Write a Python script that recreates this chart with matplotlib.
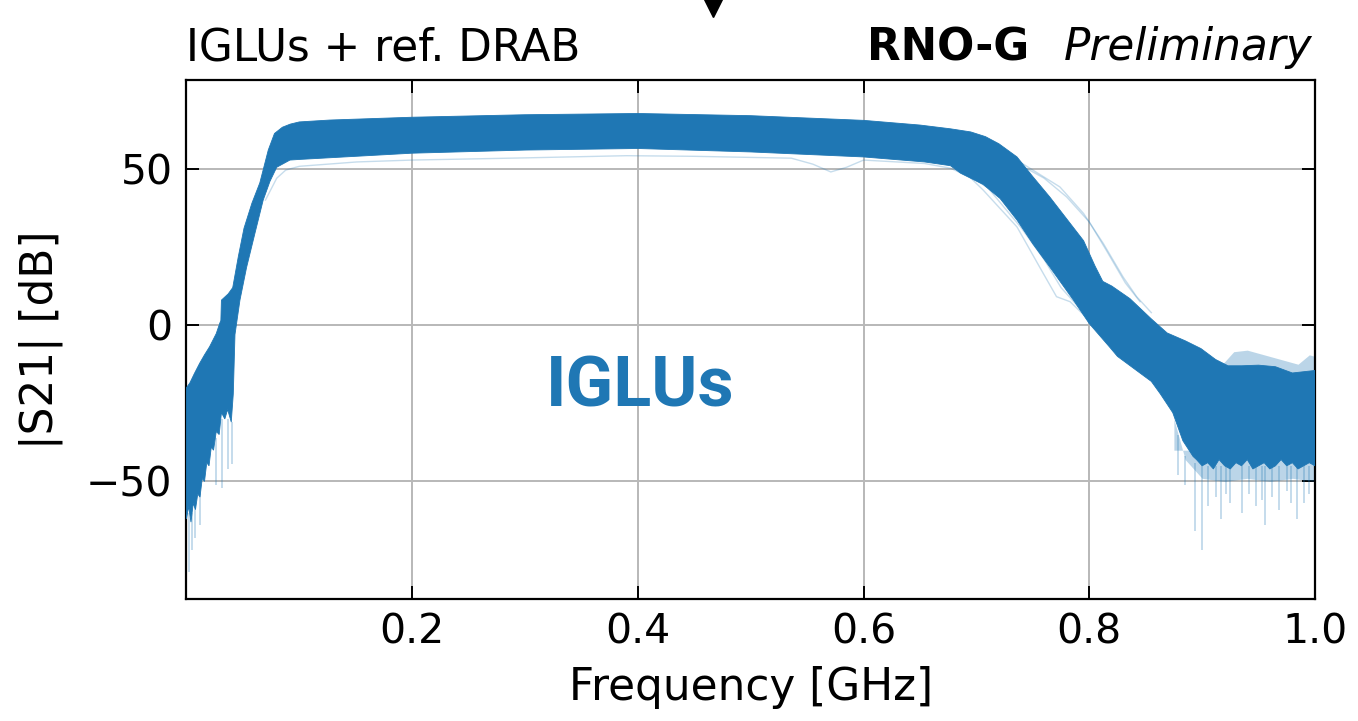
import numpy as np
import matplotlib.pyplot as plt
from matplotlib.lines import Line2D

# outer envelope of all IGLU |S21| traces (GHz, dB)
freq_top = [0.0, 0.003, 0.007, 0.0117, 0.016, 0.0205, 0.0264, 0.0294, 0.0305,
            0.031, 0.037, 0.041, 0.046, 0.051, 0.058, 0.065, 0.0725, 0.078,
            0.085, 0.092, 0.1, 0.127, 0.2, 0.3, 0.4, 0.5, 0.6, 0.65, 0.677,
            0.695, 0.708, 0.72, 0.736, 0.75, 0.765, 0.78, 0.795, 0.805, 0.812,
            0.82, 0.836, 0.855, 0.869, 0.885, 0.899, 0.912, 0.923, 0.935, 0.95,
            0.965, 0.98, 1.0]
s21_top = [-20, -18.5, -15.5, -12.2, -9.5, -6.9, -2.7, 0.5, 1.5,
           8, 10, 12, 22, 31, 39, 45.5, 56, 61.3,
           63.3, 64.3, 65, 65.6, 66.5, 67.3, 67.7, 67, 65.5, 64, 62.8,
           61.8, 60.3, 58, 53.8, 47.5, 41, 34, 27, 19, 14,
           12.5, 8.5, 2, -2.5, -5, -7.5, -11, -13, -13, -12.8,
           -13.3, -15.3, -14.5]

freq_bot = [0.0, 0.002, 0.004, 0.006, 0.008, 0.01, 0.012, 0.014, 0.016, 0.018,
            0.02, 0.022, 0.024, 0.0264, 0.029, 0.031, 0.034, 0.0365, 0.0397,
            0.0415, 0.043, 0.0474, 0.0533, 0.0607, 0.068, 0.074, 0.08, 0.0917,
            0.1, 0.2, 0.3, 0.4, 0.5, 0.6, 0.654, 0.677, 0.686, 0.706, 0.721,
            0.736, 0.75, 0.765, 0.786, 0.8, 0.818, 0.825, 0.84, 0.855, 0.863,
            0.874, 0.883, 0.892, 0.895, 0.9, 0.905, 0.91, 0.915, 0.92, 0.925,
            0.93, 0.935, 0.94, 0.945, 0.95, 0.955, 0.96, 0.965, 0.97, 0.975,
            0.98, 0.985, 0.99, 0.995, 1.0]
s21_bot = [-62, -58, -63, -57, -59, -54, -55, -49, -50, -44,
           -45, -39, -40, -34, -35, -28, -30, -27, -31,
           -22, -3, 8, 18.5, 29.4, 40, 46, 50.5, 52.8,
           53, 55, 56, 56.5, 55.4, 53.8, 52.2, 51, 48.6, 45, 40.5,
           33.6, 26, 18.6, 8, 0.5, -7, -10, -14, -18, -22,
           -28, -37, -42, -43, -45, -44, -46, -43, -45, -46,
           -44, -45, -43, -46, -45, -44, -46, -45, -43, -45,
           -44, -46, -45, -44, -45]

# faint fringe on top of the noisy high-frequency end
freq_fringe = [0.918, 0.928, 0.94, 0.955, 0.97, 0.985, 0.995, 1.0]
s21_fringe = [-12.5, -8.5, -8, -9.5, -11, -12.5, -9.5, -10]

# faint fringe under the noisy high-frequency end
freq_under = [0.875, 0.885, 0.9, 0.92, 0.94, 0.96, 0.98, 1.0]
s21_under = [-30, -43, -49, -50, -49, -50, -49, -50]

# single deep noise spikes below the band: position, start, end (dB)
spike_f = [0.002, 0.005, 0.008, 0.012, 0.026, 0.0318, 0.037, 0.0403,
           0.879, 0.885, 0.8937, 0.8996, 0.905, 0.912, 0.917, 0.921, 0.925,
           0.935, 0.942, 0.948, 0.953, 0.956, 0.962, 0.968, 0.975, 0.979,
           0.984, 0.99, 0.995]
spike_start = [-60, -60, -58, -54, -36, -30, -30, -31,
               -35, -42, -44, -45, -45, -45, -45, -45, -45,
               -45, -45, -45, -45, -45, -45, -45, -45, -45,
               -45, -45, -45]
spike_end = [-79, -72, -68, -64, -51, -52, -46, -44.5,
             -48, -51, -66, -72, -58, -55, -62, -54, -57,
             -60, -54, -58, -56, -64, -55, -59, -53, -57,
             -62, -57, -54]

# a few outlier traces that stand apart from the bulk
out1_f = [0.07, 0.08, 0.088, 0.1, 0.151, 0.2, 0.3, 0.39, 0.45, 0.536, 0.555,
          0.571, 0.585, 0.6, 0.654, 0.677, 0.694, 0.706, 0.736, 0.756, 0.771,
          0.783, 0.8]
out1_db = [40, 47, 49.6, 50.8, 52.2, 52.8, 53.5, 54.2, 54, 53.4, 51.5,
           49, 50.5, 52.8, 51.7, 50.2, 47.4, 43.2, 31.4, 18.6, 9.1,
           7.5, 1.6]
out2_f = [0.68, 0.71, 0.74, 0.76, 0.775, 0.79]
out2_db = [50.8, 44, 31, 21, 12, 6]
out3_f = [0.72, 0.735, 0.75, 0.774, 0.795, 0.8125, 0.83, 0.842, 0.855]
out3_db = [56, 53, 49.6, 44.2, 35.7, 26.1, 15.4, 9.1, 4]
out4_f = [0.745, 0.76, 0.78, 0.8, 0.815, 0.832, 0.845]
out4_db = [50, 47, 41, 33, 24, 13.5, 7.5]

xticks = [0.2, 0.4, 0.6, 0.8, 1.0]
yticks = [-50, 0, 50]

blue = '#1f77b4'

fig = plt.figure(figsize=(13.58, 7.21), dpi=100)
ax = fig.add_axes([0.1373, 0.1692, 0.8310, 0.7198])

ax.fill(np.r_[freq_top, freq_bot[::-1]], np.r_[s21_top, s21_bot[::-1]],
        color=blue, lw=0.6, zorder=3)
ax.fill_between(freq_fringe, s21_fringe, -20, color=blue, alpha=0.3, lw=0, zorder=2)
ax.fill_between(freq_under, s21_under, -40, color=blue, alpha=0.3, lw=0, zorder=2)
ax.vlines(spike_f, spike_start, spike_end, color=blue, alpha=0.3, lw=1.2, zorder=2)
for fx, fy in [(out1_f, out1_db), (out2_f, out2_db), (out3_f, out3_db), (out4_f, out4_db)]:
    ax.plot(fx, fy, color=blue, alpha=0.25, lw=1.0, zorder=2)

ax.set_xlim(0.0, 1.0)
ax.set_ylim(-87.6, 78.4)
ax.set_xticks(xticks)
ax.set_yticks(yticks)
ax.set_xticklabels(['0.2', '0.4', '0.6', '0.8', '1.0'])
ax.set_yticklabels(['\u221250', '0', '50'])
ax.tick_params(direction='in', length=9.5, width=1.4, top=True, right=True,
               labelsize=29.5, pad=10)
for sp in ax.spines.values():
    sp.set_linewidth(1.6)
ax.grid(True, color='#b8b8b8', lw=1.4)
ax.set_axisbelow(True)

ax.set_xlabel('Frequency [GHz]', fontsize=31.5)
ax.set_ylabel('|S21| [dB]', fontsize=31.5)
ax.xaxis.set_label_coords(0.5, -0.129)
ax.yaxis.set_label_coords(-0.1094, 0.5)

ax.text(0.0, 1.0385, 'IGLUs + ref. DRAB', transform=ax.transAxes,
        fontsize=31.5, ha='left', va='baseline')
prelim = ax.text(0.9975, 1.0385, 'Preliminary', transform=ax.transAxes,
                 fontsize=31.5, style='italic', ha='right', va='baseline')
ax.annotate('RNO-G', xy=(0, 0), xycoords=prelim, xytext=(-25, 0),
            textcoords='offset points', fontsize=31.5, weight='bold',
            ha='right', va='bottom')

ax.text(0.4025, -26.1, 'IGLUs', color=blue, fontsize=50.5, weight='bold',
        family=['Roboto', 'DejaVu Sans'], ha='center', va='baseline', zorder=5)

fig.add_artist(Line2D([0.5253], [0.9893], marker='v', markersize=13,
                      color='black', linestyle='none', transform=fig.transFigure))

fig.savefig('out.png', dpi=100)
